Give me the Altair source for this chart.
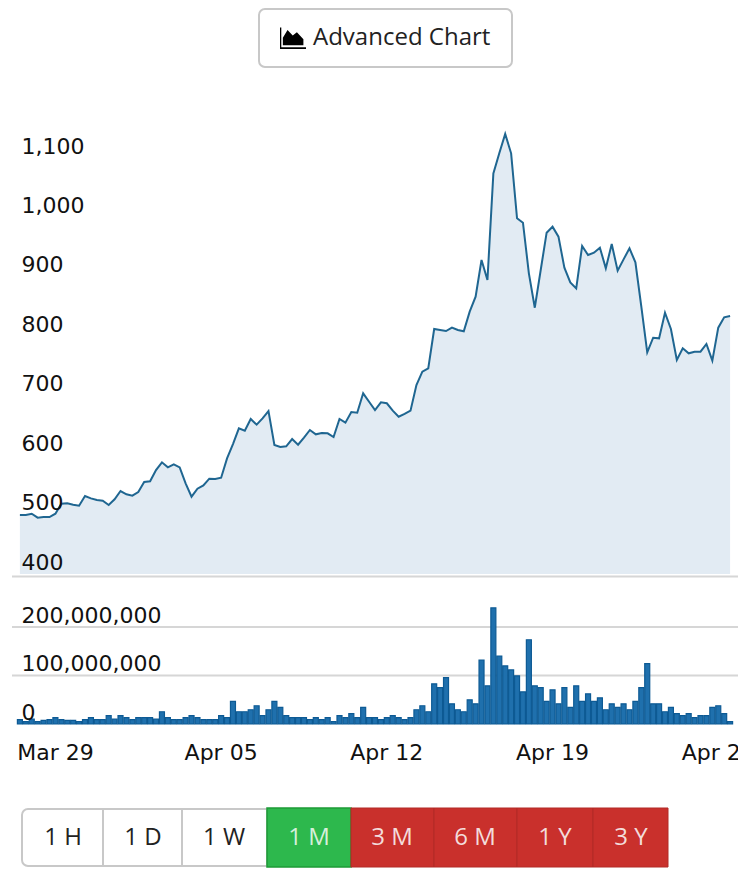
import altair as alt
import pandas as pd

# ---- data ----
PRICE = [
    499.3, 499.3, 501.5, 494.8, 495.9, 495.9, 501.5, 518.4, 518.9, 516.7,
    515.0, 531.3, 527.3, 524.5, 523.4, 516.1, 525.7, 539.7, 534.1, 531.8,
    538.0, 554.8, 556.0, 575.0, 588.0, 579.5, 584.6, 579.5, 552.6, 530.2,
    543.6, 549.2, 560.5, 559.9, 562.1, 594.7, 618.8, 645.2, 641.3, 660.9,
    651.4, 662.0, 674.4, 617.1, 613.8, 614.9, 627.2, 617.7, 629.5, 642.4,
    635.1, 637.3, 636.8, 630.6, 660.9, 654.7, 672.7, 671.6, 704.2, 690.0,
    676.1, 689.0, 687.4, 674.9, 664.8, 669.4, 674.9, 718.2, 740.6, 746.2,
    812.4, 810.7, 809.0, 814.7, 810.7, 808.5, 841.6, 866.9, 928.6, 895.0,
    1074.5, 1108.2, 1140.7, 1108.2, 998.8, 991.4, 906.2, 848.3, 911.8, 974.6,
    984.7, 967.9, 915.7, 891.0, 880.9, 952.2, 937.0, 940.9, 949.4, 914.6,
    955.5, 910.6, 929.7, 948.2, 924.7, 850.0, 773.1, 797.8, 796.7, 839.9,
    812.4, 760.2, 779.9, 771.5, 774.3, 774.3, 787.2, 759.1, 814.7, 832.1,
    834.3,
]
VOLUME_M = [
    8.9, 4.8, 10.3, 4.8, 7.5, 8.9, 13.0, 8.9, 7.5, 7.5,
    4.8, 8.9, 13.0, 8.9, 8.9, 17.1, 10.3, 17.1, 13.0, 8.9,
    13.0, 13.0, 13.0, 10.3, 25.3, 13.0, 8.9, 8.9, 13.0, 17.1,
    13.0, 8.9, 8.9, 8.9, 17.1, 13.0, 46.5, 25.3, 25.3, 29.4,
    37.6, 17.1, 29.4, 46.5, 34.2, 17.1, 13.0, 13.0, 13.0, 8.9,
    13.0, 8.9, 13.0, 4.8, 17.1, 13.0, 21.2, 13.0, 34.2, 13.0,
    13.0, 8.9, 13.0, 17.1, 13.0, 8.9, 13.0, 29.4, 37.6, 25.3,
    82.8, 75.2, 95.8, 41.7, 29.4, 25.3, 49.9, 41.7, 132.0, 78.7,
    239.4, 140.2, 119.7, 111.5, 99.2, 66.3, 173.7, 78.7, 75.2, 46.5,
    70.5, 41.7, 75.2, 34.2, 78.7, 46.5, 62.2, 46.5, 54.0, 29.4,
    41.7, 34.2, 41.7, 29.4, 46.5, 75.2, 124.5, 41.7, 41.7, 25.3,
    34.2, 21.2, 17.1, 21.2, 13.0, 17.1, 17.1, 34.2, 37.6, 21.2,
    4.8,
]
PRICE_TICKS = [400, 500, 600, 700, 800, 900, 1000, 1100]
VOLUME_TICKS = [0, 100000000, 200000000]
VOLUME_GRID = [100000000, 200000000]
DATE_TICKS = ["2021-03-29T00:00:00Z", "2021-04-05T00:00:00Z", "2021-04-12T00:00:00Z",
              "2021-04-19T00:00:00Z", "2021-04-26T00:00:00Z"]
DATE_LABELS = ["Mar 29", "Apr 05", "Apr 12", "Apr 19", "Apr 26"]
RANGE_LABELS = ["1 H", "1 D", "1 W", "1 M", "3 M", "6 M", "1 Y", "3 Y"]
BUTTON_TITLE = "Advanced Chart"

times = pd.date_range("2021-03-27 12:00", periods=len(PRICE), freq="6h").strftime("%Y-%m-%dT%H:%M:%SZ")
df = pd.DataFrame({"time": times, "price": PRICE, "volume": [v * 1e6 for v in VOLUME_M]})
df_dates = pd.DataFrame({"time": DATE_TICKS, "label": DATE_LABELS})

W, H = 734, 870
PRICE_BOTTOM, PRICE_TOP, VOL_BOTTOM = 566, 118, 716
FONT = "DejaVu Sans"
UI_FONT = "Open Sans"

x_scale = alt.Scale(
    type="utc",
    nice=False,
    domain=[
        alt.DateTime(year=2021, month=3, date=27, hours=5, utc=True),
        alt.DateTime(year=2021, month=4, date=26, hours=19, utc=True),
    ],
)
x_plain = alt.X("time:T", scale=x_scale, axis=None)
one = alt.Data(values=[{"k": 0}])


def box(x0, x1, y0, y1, **kw):
    return alt.Chart(one).mark_rect(**kw).encode(
        x=alt.value(x0), x2=alt.value(x1), y=alt.value(y0), y2=alt.value(y1))


def label(text, x, y, size, color, align="center"):
    return alt.Chart(one).mark_text(
        text=text, font=UI_FONT, fontSize=size, color=color, align=align, baseline="middle"
    ).encode(x=alt.value(x), y=alt.value(y))


def value_axis(ticks):
    return alt.Axis(
        values=ticks, format=",.0f", title=None, domain=False, ticks=False, grid=False, orient="left",
        labelAlign="left", labelPadding=-13, labelOffset=-12, labelFont=FONT, labelFontSize=22,
        labelColor="#111111", zindex=1,
    )


# ---- top button ----
ICON = ("M-1,-0.8 L-0.9,-0.8 L-0.9,0.72 L1,0.72 L1,0.85 L-1,0.85 Z "
        "M-0.78,0.55 L-0.78,-0.02 L-0.42,-0.62 L-0.02,-0.2 L0.3,-0.45 L0.8,0.1 L0.8,0.55 Z")
icon = alt.Chart(one).mark_point(shape=ICON, filled=True, fill="#000000", opacity=1, size=676).encode(
    x=alt.value(285), y=alt.value(30))
layers = [
    box(251, 504, 1, 59, fill="white", stroke="#c8c8c8", strokeWidth=2, cornerRadius=6),
    icon,
    label(BUTTON_TITLE, 305, 30, 24, "#222222", "left"),
]

# ---- price ----
price_scale = alt.Scale(domain=[400, 1154.2], range=[PRICE_BOTTOM, PRICE_TOP], zero=False, nice=False)
layers.append(alt.Chart(df).mark_area(color="#e2ebf3", opacity=1).encode(
    x=x_plain, y=alt.Y("price:Q", scale=price_scale, axis=None), y2=alt.datum(400)))
layers.append(alt.Chart(df).mark_line(color="#1f6691", strokeWidth=2, strokeJoin="miter").encode(
    x=x_plain, y=alt.Y("price:Q", scale=price_scale, axis=value_axis(PRICE_TICKS))))
layers.append(alt.Chart(one).mark_rule(color="#d6d6d6", strokeWidth=2).encode(
    x=alt.value(4), x2=alt.value(730), y=alt.value(PRICE_BOTTOM + 2.5)))

# ---- volume ----
vol_scale = alt.Scale(domain=[0, 309300000], range=[VOL_BOTTOM, PRICE_BOTTOM], nice=False)
layers.append(alt.Chart(pd.DataFrame({"volume": VOLUME_GRID})).mark_rule(color="#d6d6d6", strokeWidth=2).encode(
    x=alt.value(4), x2=alt.value(730), y=alt.Y("volume:Q", scale=vol_scale, axis=None)))
layers.append(alt.Chart(df).mark_bar(size=5, fill="#1f70ad", stroke="#0d5a94", strokeWidth=1.2).encode(
    x=x_plain, y=alt.Y("volume:Q", scale=vol_scale, axis=value_axis(VOLUME_TICKS))))

# ---- date labels ----
layers.append(alt.Chart(df_dates).mark_text(
    font=FONT, fontSize=22, color="#111111", align="center", baseline="middle"
).encode(x=x_plain, y=alt.value(VOL_BOTTOM + 29), text="label:N"))

# ---- range buttons ----
edges = [14, 95, 174, 259, 343, 426, 509, 585, 660]
centers = [55, 135, 216, 301, 384, 467, 547, 623]
text_colors = ["#222222", "#222222", "#222222", "#d5efdb", "#f3dcdb", "#f3dcdb", "#f3dcdb", "#f3dcdb"]
B0, B1, TY = VOL_BOTTOM + 84, VOL_BOTTOM + 143, VOL_BOTTOM + 114
layers.append(alt.Chart(one).mark_rect(
    fill="white", stroke="#c8c8c8", strokeWidth=2, cornerRadiusTopLeft=6, cornerRadiusBottomLeft=6
).encode(x=alt.value(edges[0]), x2=alt.value(edges[3]), y=alt.value(B0 + 1), y2=alt.value(B1 - 1)))
for e in edges[1:3]:
    layers.append(box(e - 1, e + 1, B0 + 1, B1 - 1, fill="#c8c8c8"))
layers.append(box(edges[3], edges[4], B0, B1, fill="#2db84d", stroke="#1c9a36", strokeWidth=1.5))
for a, b in zip(edges[4:-1], edges[5:]):
    layers.append(box(a, b, B0, B1, fill="#c9302c", stroke="#b22a26", strokeWidth=1))
for t, c, col in zip(RANGE_LABELS, centers, text_colors):
    layers.append(label(t, c, TY, 24, col))

# ---- page edge: the last date label is cut here, as in the reference ----
layers.append(box(730, 734, 0, H, fill="white"))

chart = (
    alt.layer(*layers)
    .resolve_scale(y="independent")
    .properties(width=W, height=H, padding=0, autosize=alt.AutoSizeParams(type="none"))
    .configure_view(stroke=None)
)
chart.save("out.html", embed_options={"renderer": "svg", "actions": False})
